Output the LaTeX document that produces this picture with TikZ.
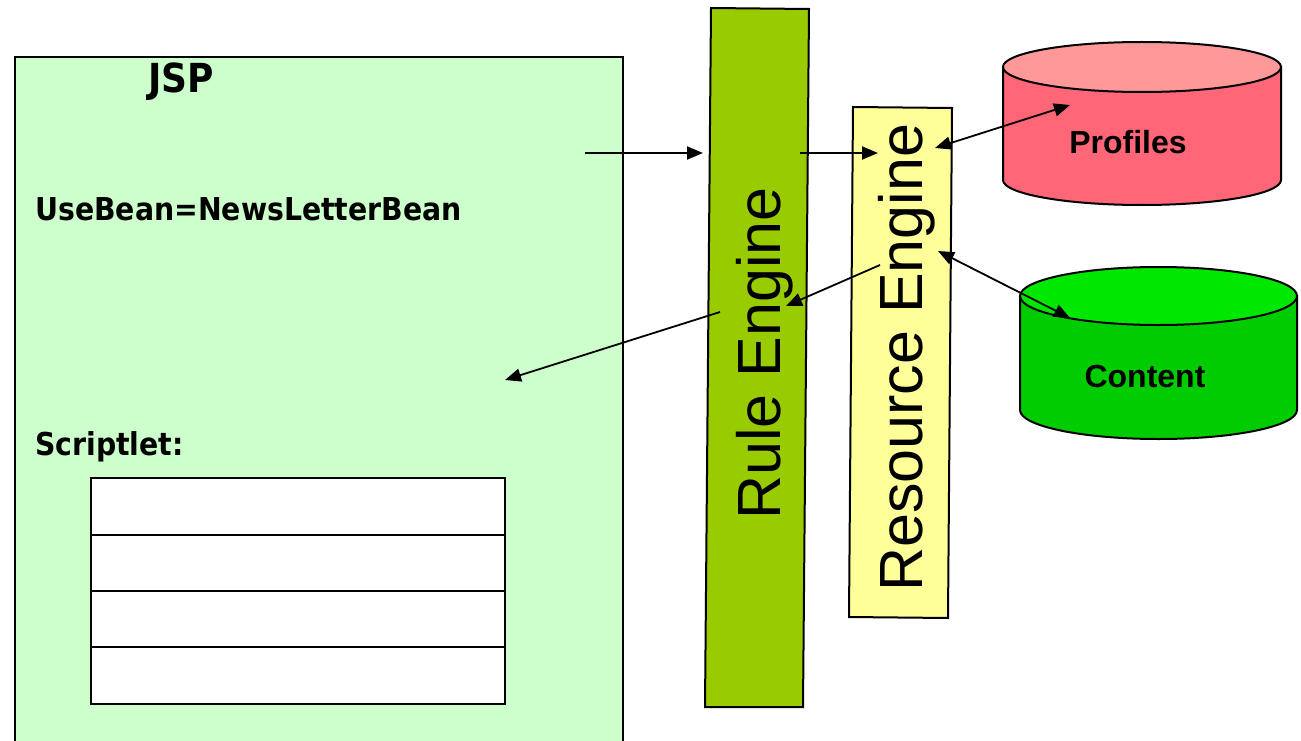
\documentclass[tikz,border=0pt]{standalone}
\usepackage{fontspec}
\setmainfont{Liberation Sans}
\newfontfamily\jspfont{DejaVu Sans Condensed}
\usetikzlibrary{arrows.meta}

\definecolor{jspgreen}{HTML}{CCFFCC}
\definecolor{rulegreen}{HTML}{99CC00}
\definecolor{resyellow}{HTML}{FFFF99}
\definecolor{proftop}{HTML}{FF9999}
\definecolor{profbody}{HTML}{FF6677}
\definecolor{conttop}{HTML}{00E800}
\definecolor{contbody}{HTML}{00CC00}

\tikzset{
  boxline/.style={draw=black, line width=2pt},
  flow/.style={line width=1.8pt, -{Triangle[length=16pt,width=13pt]}},
  dflow/.style={line width=1.8pt, {Triangle[length=16pt,width=13pt]}-{Triangle[length=16pt,width=13pt]}},
  jsptext/.style={font=\jspfont\bfseries\fontsize{31.5}{36}\selectfont, inner sep=0pt, anchor=base west},
  enginetext/.style={font=\fontsize{61}{70}\selectfont, inner sep=0pt, rotate=90, anchor=base west},
  dbtext/.style={font=\bfseries\fontsize{32}{38}\selectfont, inner sep=0pt},
}

\newcommand{\drumshape}[7]{% fill top, fill body, cx, rx, top cy, bottom cy, ry
  \filldraw[fill=#2, boxline] (#3-#4,#5) -- (#3-#4,#6)
    arc[start angle=180, end angle=0, x radius=#4, y radius=#7]
    -- (#3+#4,#5) -- cycle;
  \filldraw[fill=#1, boxline] (#3,#5) ellipse[x radius=#4, y radius=#7];
}

\begin{document}
\begin{tikzpicture}[x=1pt, y=-1pt]
  \useasboundingbox (0,0) rectangle (1301,741);
  \clip (0,0) rectangle (1301,741);

  % JSP page
  \filldraw[fill=jspgreen, boxline] (15,57) rectangle (623,760);
  \node[jsptext, font=\jspfont\bfseries\fontsize{40}{46}\selectfont] (jsptitle) at (148,93) {JSP};
  \node[jsptext] (usebean) at (35,220) {UseBean=NewsLetterBean};
  \node[jsptext] (scriptlet) at (35,455) {Scriptlet:};

  % scriptlet table
  \filldraw[fill=white, boxline] (91,478) rectangle (505,704);
  \draw[boxline] (91,535) -- (505,535);
  \draw[boxline] (91,591) -- (505,591);
  \draw[boxline] (91,647) -- (505,647);

  % Rule Engine bar
  \filldraw[fill=rulegreen, boxline] (711,8) -- (809,9) -- (803,707) -- (705,707) -- cycle;
  \node[enginetext] (rule) at (780,520) {Rule Engine};

  % Resource Engine bar
  \filldraw[fill=resyellow, boxline] (853,107) -- (952,108) -- (948,618) -- (849,617) -- cycle;
  \node[enginetext] (resource) at (922,592) {Resource Engine};

  % data stores
  \drumshape{proftop}{profbody}{1142}{139}{67}{180}{25}
  \node[dbtext] (profiles) at (1128,142) {Profiles};
  \drumshape{conttop}{contbody}{1158.5}{138.5}{296}{410}{29}
  \node[dbtext] (content) at (1145,376) {Content};

  % connector end points
  \coordinate (jspout) at (585,153);
  \coordinate (rulein) at (703,153);
  \coordinate (ruleout) at (800,153);
  \coordinate (resin) at (878,153);
  \coordinate (resback) at (880,265);
  \coordinate (ruleback) at (786,306);
  \coordinate (rulereply) at (720,312);
  \coordinate (jspin) at (505,380);
  \coordinate (resprof) at (935,148);
  \coordinate (profend) at (1070,105);
  \coordinate (rescont) at (938,251);
  \coordinate (contend) at (1070,318);

  % connectors
  \draw[flow] (jspout) -- (rulein);
  \draw[flow] (ruleout) -- (resin);
  \draw[flow] (resback) -- (ruleback);
  \draw[flow] (rulereply) -- (jspin);
  \draw[dflow] (resprof) -- (profend);
  \draw[dflow] (rescont) -- (contend);
\end{tikzpicture}
\end{document}
